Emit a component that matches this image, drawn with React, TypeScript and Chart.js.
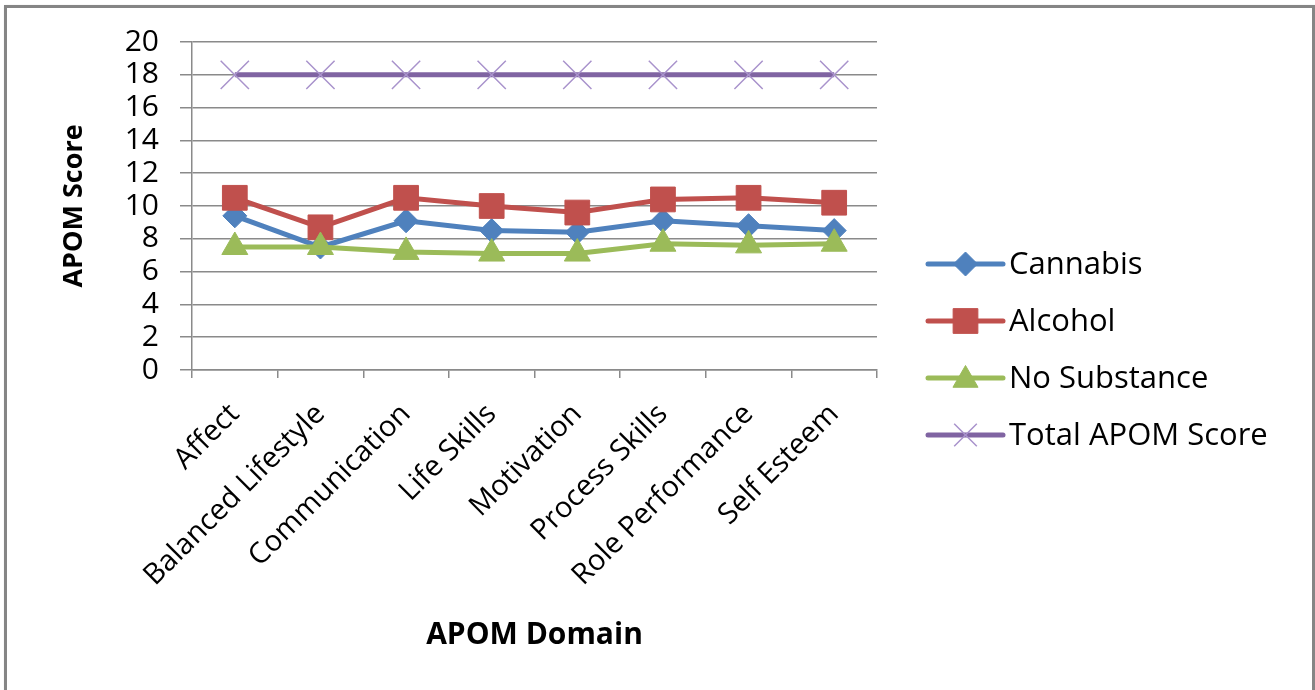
import React, { useEffect, useRef } from 'react';
import { Chart, registerables } from 'chart.js';
import { drawPoint } from 'chart.js/helpers';

Chart.register(...registerables);

// APOM domains on the x axis
const domains = [
  'Affect',
  'Balanced Lifestyle',
  'Communication',
  'Life Skills',
  'Motivation',
  'Process Skills',
  'Role Performance',
  'Self Esteem',
];

// Mean domain scores per group
const cannabis = [9.4, 7.5, 9.1, 8.5, 8.4, 9.1, 8.8, 8.5];
const alcohol = [10.5, 8.7, 10.5, 10.0, 9.6, 10.4, 10.5, 10.2];
const noSubstance = [7.5, 7.5, 7.2, 7.1, 7.1, 7.7, 7.6, 7.7];
const totalApom = [18, 18, 18, 18, 18, 18, 18, 18];

// y axis range
const yMin = 0;
const yMax = 20;
const yStep = 2;

const FONT = '"Open Sans", "Noto Sans", sans-serif';
const GRID = '#8a8a8a';

// Legend drawn to the right of the plot: a line segment with the series marker, then the name
const sideLegend = {
  id: 'sideLegend',
  afterDraw(chart: any) {
    const ctx = chart.ctx as CanvasRenderingContext2D;
    const lineX0 = 928;
    const lineX1 = 1003;
    const textX = 1009;
    const firstY = 264;
    const rowGap = 57;
    const legendRadius: Record<string, number> = {
      rectRot: 12,
      rect: 17.5,
      triangle: 14.5,
      crossRot: 16,
    };
    ctx.save();
    chart.data.datasets.forEach((ds: any, i: number) => {
      const y = firstY + i * rowGap;
      ctx.beginPath();
      ctx.strokeStyle = ds.borderColor;
      ctx.lineWidth = ds.borderWidth;
      ctx.lineCap = 'round';
      ctx.moveTo(lineX0, y);
      ctx.lineTo(lineX1, y);
      ctx.stroke();
      ctx.fillStyle = ds.pointBackgroundColor;
      ctx.strokeStyle = ds.pointBorderColor;
      ctx.lineWidth = ds.pointBorderWidth;
      ctx.lineCap = 'butt';
      const cx = (lineX0 + lineX1) / 2;
      const cy = ds.pointStyle === 'triangle' ? y + 2 : y;
      drawPoint(
        ctx,
        {
          pointStyle: ds.pointStyle,
          radius: legendRadius[ds.pointStyle] ?? ds.pointRadius,
          borderWidth: ds.pointBorderWidth,
          rotation: 0,
        } as any,
        cx,
        cy
      );
      ctx.fillStyle = '#000';
      ctx.font = `31px ${FONT}`;
      ctx.textAlign = 'left';
      ctx.textBaseline = 'middle';
      ctx.fillText(ds.label, textX, y + 1);
    });
    ctx.restore();
  },
};

export default function App() {
  const canvasRef = useRef<HTMLCanvasElement | null>(null);

  useEffect(() => {
    if (!canvasRef.current) return;
    const chart = new Chart(canvasRef.current, {
      type: 'line',
      data: {
        labels: domains,
        datasets: [
          {
            label: 'Cannabis',
            data: cannabis,
            borderColor: '#4f81bd',
            backgroundColor: '#4f81bd',
            borderWidth: 5,
            pointStyle: 'rectRot',
            pointRadius: 12,
            pointBackgroundColor: '#4f81bd',
            pointBorderColor: '#4f81bd',
            pointBorderWidth: 1,
            order: 4,
          },
          {
            label: 'Alcohol',
            data: alcohol,
            borderColor: '#c0504d',
            backgroundColor: '#c0504d',
            borderWidth: 5,
            pointStyle: 'rect',
            pointRadius: 17.5,
            pointBackgroundColor: '#c0504d',
            pointBorderColor: '#c0504d',
            pointBorderWidth: 1,
            order: 3,
          },
          {
            label: 'No Substance',
            data: noSubstance,
            borderColor: '#9bbb59',
            backgroundColor: '#9bbb59',
            borderWidth: 5,
            pointStyle: 'triangle',
            pointRadius: 15,
            pointBackgroundColor: '#9bbb59',
            pointBorderColor: '#9bbb59',
            pointBorderWidth: 1,
            order: 2,
          },
          {
            label: 'Total APOM Score',
            data: totalApom,
            borderColor: '#8064a2',
            backgroundColor: '#8064a2',
            borderWidth: 5,
            pointStyle: 'crossRot',
            pointRadius: 20,
            pointBackgroundColor: '#a993cc',
            pointBorderColor: '#a993cc',
            pointBorderWidth: 1.5,
            order: 1,
          },
        ],
      },
      options: {
        responsive: false,
        animation: false,
        devicePixelRatio: 1,
        layout: { padding: { left: 0, top: 42, right: 438, bottom: 0 } },
        plugins: {
          legend: { display: false },
          tooltip: { enabled: false },
        },
        elements: { line: { tension: 0 } },
        scales: {
          x: {
            type: 'category',
            offset: true,
            afterFit(scale: any) {
              scale.height = 320;
            },
            grid: {
              offset: true,
              drawOnChartArea: false,
              drawTicks: true,
              tickLength: 8,
              color: GRID,
              lineWidth: 1.5,
            },
            border: { color: GRID, width: 1.5 },
            ticks: {
              autoSkip: false,
              maxRotation: 45,
              minRotation: 45,
              padding: 19,
              color: '#000',
              font: { family: FONT, size: 29 },
            },
            title: {
              display: true,
              text: 'APOM Domain',
              color: '#000',
              font: { family: FONT, size: 30, weight: 'bold' },
              padding: { top: 0, bottom: 37 },
            },
          },
          y: {
            min: yMin,
            max: yMax,
            afterFit(scale: any) {
              scale.width = 192;
            },
            grid: {
              color: GRID,
              lineWidth: 1.5,
              drawTicks: true,
              tickLength: 12,
            },
            border: { color: GRID, width: 1.5 },
            ticks: {
              stepSize: yStep,
              autoSkip: false,
              padding: 21,
              color: '#000',
              font: { family: FONT, size: 30 },
            },
            title: {
              display: true,
              text: 'APOM Score',
              color: '#000',
              font: { family: FONT, size: 27, weight: 'bold' },
              padding: { top: 58, bottom: 0 },
            },
          },
        },
      },
      plugins: [sideLegend],
    } as any);
    return () => chart.destroy();
  }, []);

  return (
    <div style={{ position: 'relative', width: 1315, height: 690, overflow: 'hidden', background: '#fff' }}>
      <style>{`body{margin:0;}`}</style>
      <canvas ref={canvasRef} width={1315} height={690} style={{ position: 'absolute', left: 0, top: 0 }} />
      <div
        style={{
          position: 'absolute',
          left: 4,
          top: 5,
          width: 1305,
          height: 720,
          border: '3px solid #858585',
          borderBottom: 'none',
          boxShadow: '1px 1px 2px rgba(0,0,0,0.35)',
          pointerEvents: 'none',
        }}
      />
    </div>
  );
}
